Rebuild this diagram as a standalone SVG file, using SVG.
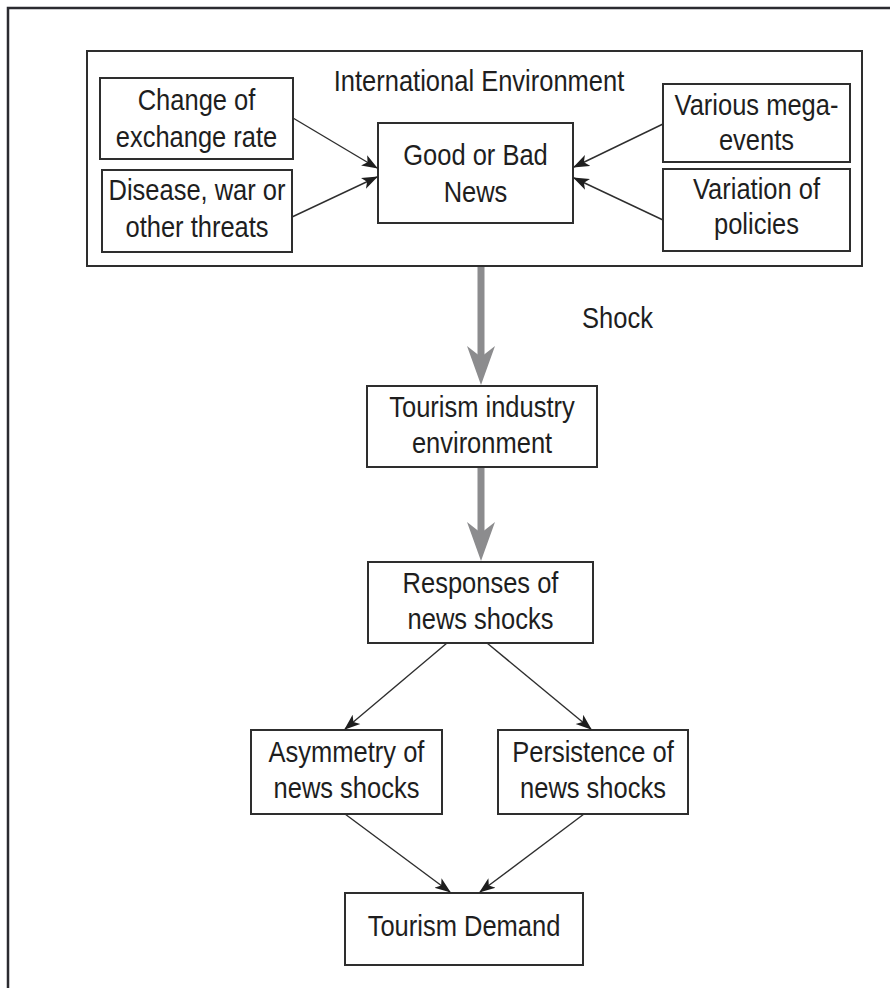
<svg xmlns="http://www.w3.org/2000/svg" width="891" height="988" viewBox="0 0 891 988">
<defs>
<style>
.box{fill:#fff;stroke:#2e2e2e;stroke-width:2}
.frame{fill:none;stroke:#2b2b30;stroke-width:2.5}
.lbl{font-family:"Liberation Sans",Arial,Helvetica,sans-serif;font-size:30px;fill:#1e1e1e;text-anchor:middle}
.thin{stroke:#2e2e2e;stroke-width:1.4;fill:none;marker-end:url(#ah)}
.gray{fill:#8c8c8e}
</style>
<marker id="ah" markerUnits="userSpaceOnUse" markerWidth="16" markerHeight="14" viewBox="0 0 16 14" refX="15" refY="7" orient="auto">
<path d="M0,1 L16,7 L0,13 L4,7 z" fill="#1e1e1e"/>
</marker>
</defs>
<rect width="891" height="988" fill="#fff"/>
<path class="frame" d="M8,988 V8 H890"/>

<g id="international-environment">
<rect class="box" x="87" y="51" width="775" height="215"/>
<text class="lbl" transform="translate(479,91) scale(0.85,1)">International Environment</text>
</g>

<g id="change-exchange-rate">
<rect class="box" x="100" y="78" width="193" height="81"/>
<text class="lbl" transform="translate(196.5,110) scale(0.85,1)"><tspan x="0" y="0">Change of</tspan><tspan x="0" y="37">exchange rate</tspan></text>
</g>

<g id="disease-war">
<rect class="box" x="102" y="170" width="190" height="82"/>
<text class="lbl" transform="translate(197,200) scale(0.85,1)"><tspan x="0" y="0">Disease, war or</tspan><tspan x="0" y="37">other threats</tspan></text>
</g>

<g id="good-bad-news">
<rect class="box" x="378" y="123" width="195" height="100"/>
<text class="lbl" transform="translate(475.5,165) scale(0.85,1)"><tspan x="0" y="0">Good or Bad</tspan><tspan x="0" y="37">News</tspan></text>
</g>

<g id="mega-events">
<rect class="box" x="663" y="84" width="187" height="78"/>
<text class="lbl" transform="translate(756.5,115) scale(0.85,1)"><tspan x="0" y="0">Various mega-</tspan><tspan x="0" y="35">events</tspan></text>
</g>

<g id="variation-policies">
<rect class="box" x="663" y="169" width="187" height="82"/>
<text class="lbl" transform="translate(756.5,199) scale(0.85,1)"><tspan x="0" y="0">Variation of</tspan><tspan x="0" y="35">policies</tspan></text>
</g>

<g id="shock-label">
<text class="lbl" transform="translate(617.5,328) scale(0.85,1)">Shock</text>
</g>

<g id="tourism-industry">
<rect class="box" x="367" y="386" width="230" height="81"/>
<text class="lbl" transform="translate(482,417) scale(0.85,1)"><tspan x="0" y="0">Tourism industry</tspan><tspan x="0" y="36">environment</tspan></text>
</g>

<g id="responses">
<rect class="box" x="368" y="562" width="225" height="81"/>
<text class="lbl" transform="translate(480.5,593) scale(0.85,1)"><tspan x="0" y="0">Responses of</tspan><tspan x="0" y="36">news shocks</tspan></text>
</g>

<g id="asymmetry">
<rect class="box" x="251" y="730" width="191" height="84"/>
<text class="lbl" transform="translate(346.5,762) scale(0.85,1)"><tspan x="0" y="0">Asymmetry of</tspan><tspan x="0" y="36">news shocks</tspan></text>
</g>

<g id="persistence">
<rect class="box" x="498" y="730" width="190" height="84"/>
<text class="lbl" transform="translate(593,762) scale(0.85,1)"><tspan x="0" y="0">Persistence of</tspan><tspan x="0" y="36">news shocks</tspan></text>
</g>

<g id="tourism-demand">
<rect class="box" x="345" y="893" width="238" height="72"/>
<text class="lbl" transform="translate(464,936) scale(0.85,1)">Tourism Demand</text>
</g>

<g id="connectors">
<line class="thin" x1="293" y1="118" x2="377" y2="168"/>
<line class="thin" x1="292" y1="217" x2="377" y2="177"/>
<line class="thin" x1="663" y1="124" x2="574" y2="167"/>
<line class="thin" x1="663" y1="220" x2="574" y2="178"/>
<rect class="gray" x="477.5" y="267" width="7" height="90"/>
<polygon class="gray" points="467,346 481,357 495,346 481,385"/>
<rect class="gray" x="477.5" y="468" width="7" height="65"/>
<polygon class="gray" points="467,522 481,533 495,522 481,561"/>
<line class="thin" x1="447" y1="643" x2="345" y2="729"/>
<line class="thin" x1="487" y1="643" x2="591" y2="729"/>
<line class="thin" x1="345" y1="814" x2="450" y2="892"/>
<line class="thin" x1="584" y1="814" x2="480" y2="892"/>
</g>
</svg>
